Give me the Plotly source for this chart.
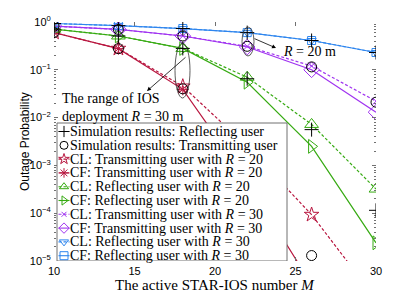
import math
import plotly.graph_objects as go

# ---------------- data ----------------
M = [10, 14, 18, 22, 26, 30]

cl_trans_r20 = [0.60, 0.277, 0.045, 0.0025, 9.3e-5, 1.6e-6]
cf_trans_r20 = [0.60, 0.277, 0.039, 4.7e-4, 3.2e-6, 2e-8]
cl_refl_r20 = [0.71, 0.51, 0.28, 0.070, 0.0072, 3.2e-4]
cf_refl_r20 = [0.71, 0.51, 0.28, 0.055, 0.0025, 2.4e-5]
cl_trans_r30 = [0.82, 0.70, 0.51, 0.31, 0.12, 0.022]
cf_trans_r30 = [0.82, 0.70, 0.51, 0.30, 0.10, 0.013]
cl_refl_r30 = [0.93, 0.84, 0.73, 0.60, 0.41, 0.23]
cf_refl_r30 = [0.93, 0.84, 0.73, 0.60, 0.41, 0.23]

sim_refl_r20 = [0.71, 0.51, 0.28, 0.065, 0.0056, 1.15e-4]
sim_refl_r30 = [0.93, 0.84, 0.73, 0.60, 0.41, 0.23]
sim_trans_r20 = [0.60, 0.277, 0.04, 1.0e-3, 1.3e-5, None]
sim_trans_r30 = [0.82, 0.70, 0.51, 0.31, 0.115, 0.021]

y_tickvals = [1e-5, 1e-4, 1e-3, 1e-2, 1e-1, 1]
y_ticktext = ["10<sup>−5</sup>", "10<sup>−4</sup>", "10<sup>−3</sup>",
              "10<sup>−2</sup>", "10<sup>−1</sup>", "10<sup>0</sup>"]
x_tickvals = [10, 15, 20, 25, 30]

RED = "#B8163F"
GREEN = "#36AA12"
PURPLE = "#A033F0"
BLUE = "#2F86EE"
FRAME = "#707070"
SERIF = "Liberation Serif"
SANS = "Liberation Sans"

# layout geometry (pixels)
W, H = 415, 297
ML, MR, MT, MB = 54, 39, 22, 36
PW, PH = W - ML - MR, H - MT - MB
XR = (10, 30)
YR = (-5, 0)


def px2x(px):
    return XR[0] + (px - ML) / PW * (XR[1] - XR[0])


def py2y(py):
    return 10 ** (YR[1] - (py - MT) / PH * (YR[1] - YR[0]))


def px2p(px):
    return (px - ML) / PW


def py2p(py):
    return (H - MB - py) / PH


series = [
    ("CL: Transmitting user with <i>R</i> = 20", cl_trans_r20, RED, "3px,2px", "star-open", 11),
    ("CF: Transmitting user with <i>R</i> = 20", cf_trans_r20, RED, "solid", "asterisk-open", 10),
    ("CL: Reflecting user with <i>R</i> = 20", cl_refl_r20, GREEN, "3px,2px", "triangle-up-open", 12),
    ("CF: Reflecting user with <i>R</i> = 20", cf_refl_r20, GREEN, "solid", "triangle-right-open", 12),
    ("CL: Transmitting user with <i>R</i> = 30", cl_trans_r30, PURPLE, "3px,2px", "x-thin-open", 7),
    ("CF: Transmitting user with <i>R</i> = 30", cf_trans_r30, PURPLE, "solid", "diamond-open", 12),
    ("CL: Reflecting user with <i>R</i> = 30", cl_refl_r30, BLUE, "3px,2px", "triangle-down-open", 8),
    ("CF: Reflecting user with <i>R</i> = 30", cf_refl_r30, BLUE, "solid", "square-open", 8),
]
sims = [
    ("Simulation results: Reflecting user", [sim_refl_r20, sim_refl_r30], "cross-thin-open", 10),
    ("Simulation results: Transmitting user", [sim_trans_r20, sim_trans_r30], "circle-open", 10),
]

fig = go.Figure()

for name, vals, col, dash, sym, sz in series:
    fig.add_trace(go.Scatter(
        x=M, y=vals, mode="lines+markers", showlegend=False, name=name, zorder=1,
        line=dict(color=col, width=1.2, dash=dash),
        marker=dict(symbol=sym, size=sz, color=col, line=dict(color=col, width=1)),
    ))
for name, groups, sym, sz in sims:
    for vals in groups:
        fig.add_trace(go.Scatter(
            x=M, y=vals, mode="markers", showlegend=False, name=name, zorder=2,
            marker=dict(symbol=sym, size=sz, color="black", line=dict(color="black", width=1)),
        ))

# ---------------- manual legend (box + icons above data via zorder) ----------------
L, R_, T, B = 57, 287, 123, 261
fig.add_trace(go.Scatter(
    x=[px2x(v) for v in (L, R_, R_, L, L)], y=[py2y(v) for v in (T, T, B, B, T)],
    mode="lines", fill="toself", fillcolor="white", zorder=10,
    line=dict(color=FRAME, width=1), showlegend=False, hoverinfo="skip",
))
rows = [(n, "black", "solid", s, z, False) for n, _, s, z in sims] + \
       [(n, c, d, s, z, True) for n, _, c, d, s, z in series]
row0, dy = 131.5, 13.8
annotations = []
for i, (name, col, dash, sym, sz, has_line) in enumerate(rows):
    yy = row0 + i * dy
    if has_line:
        fig.add_trace(go.Scatter(
            x=[px2x(58.5), px2x(69.5)], y=[py2y(yy), py2y(yy)], mode="lines", zorder=11,
            line=dict(color=col, width=1.1, dash=dash), showlegend=False, hoverinfo="skip"))
    fig.add_trace(go.Scatter(
        x=[px2x(64)], y=[py2y(yy)], mode="markers", zorder=12,
        marker=dict(symbol=sym, size=5 if sym == "x-thin-open" else 8,
                    color=col, line=dict(color=col, width=1)),
        showlegend=False, hoverinfo="skip"))
    annotations.append(dict(
        x=px2p(68), y=py2p(yy), xref="paper", yref="paper", text=name, showarrow=False,
        xanchor="left", yanchor="middle", font=dict(family=SERIF, size=14, color="black")))

# text annotations
annotations += [
    dict(x=px2p(281), y=py2p(51), xref="paper", yref="paper", text="<i>R</i> = 20 m",
         showarrow=False, xanchor="left", yanchor="middle",
         font=dict(family=SERIF, size=14, color="black")),
    dict(x=px2p(60), y=py2p(98), xref="paper", yref="paper", text="The range of IOS",
         showarrow=False, xanchor="left", yanchor="middle",
         font=dict(family=SERIF, size=14, color="black")),
    dict(x=px2p(60), y=py2p(116), xref="paper", yref="paper", text="deployment <i>R</i> = 30 m",
         showarrow=False, xanchor="left", yanchor="middle",
         font=dict(family=SERIF, size=14, color="black")),
    dict(x=px2p(276), y=py2p(48), ax=253 - 276, ay=38 - 48, xref="paper", yref="paper",
         axref="pixel", ayref="pixel", text="", showarrow=True, arrowhead=2, arrowsize=1,
         arrowwidth=0.8, arrowcolor="black"),
    dict(x=px2p(147), y=py2p(91), ax=187 - 147, ay=56 - 91, xref="paper", yref="paper",
         axref="pixel", ayref="pixel", text="", showarrow=True, arrowhead=2, arrowsize=1,
         arrowwidth=0.8, arrowcolor="black"),
    # axis titles
    dict(x=0.5, y=py2p(285), xref="paper", yref="paper", text="The active STAR-IOS number <i>M</i>",
         showarrow=False, xanchor="center", yanchor="middle",
         font=dict(family=SERIF, size=15, color="black")),
    dict(x=px2p(25), y=py2p(142), xref="paper", yref="paper", text="Outage Probability",
         showarrow=False, textangle=-90, xanchor="center", yanchor="middle",
         font=dict(family=SANS, size=12, color="black")),
]

shapes = [
    dict(type="circle", xref="paper", yref="paper", x0=px2p(242), x1=px2p(254),
         y0=py2p(27), y1=py2p(56), line=dict(color="#333333", width=0.8), layer="above"),
    dict(type="circle", xref="paper", yref="paper", x0=px2p(175), x1=px2p(190),
         y0=py2p(43), y1=py2p(98), line=dict(color="#333333", width=0.8), layer="above"),
]

fig.update_layout(
    width=W, height=H,
    margin=dict(l=ML, r=MR, t=MT, b=MB, autoexpand=False),
    paper_bgcolor="white", plot_bgcolor="white",
    showlegend=False,
    annotations=annotations, shapes=shapes,
    xaxis=dict(
        range=list(XR), tickvals=x_tickvals, ticks="inside", ticklen=4, tickcolor=FRAME,
        showline=True, linecolor=FRAME, linewidth=1, mirror="ticks", showgrid=False, zeroline=False,
        tickfont=dict(family=SANS, size=11, color="black"), automargin=False,
    ),
    yaxis=dict(
        type="log", range=list(YR), tickvals=y_tickvals, ticktext=y_ticktext,
        ticks="inside", ticklen=4, tickcolor=FRAME,
        minor=dict(ticks="inside", ticklen=2, tickcolor=FRAME,
                   tickvals=[m * 10 ** e for e in range(-5, 0) for m in range(2, 10)]),
        showline=True, linecolor=FRAME, linewidth=1, mirror="ticks", showgrid=False, zeroline=False,
        tickfont=dict(family=SANS, size=11, color="black"), automargin=False,
    ),
)

fig.write_html("out.html", config={"displayModeBar": False},
               post_script="document.body.style.margin='0';")
